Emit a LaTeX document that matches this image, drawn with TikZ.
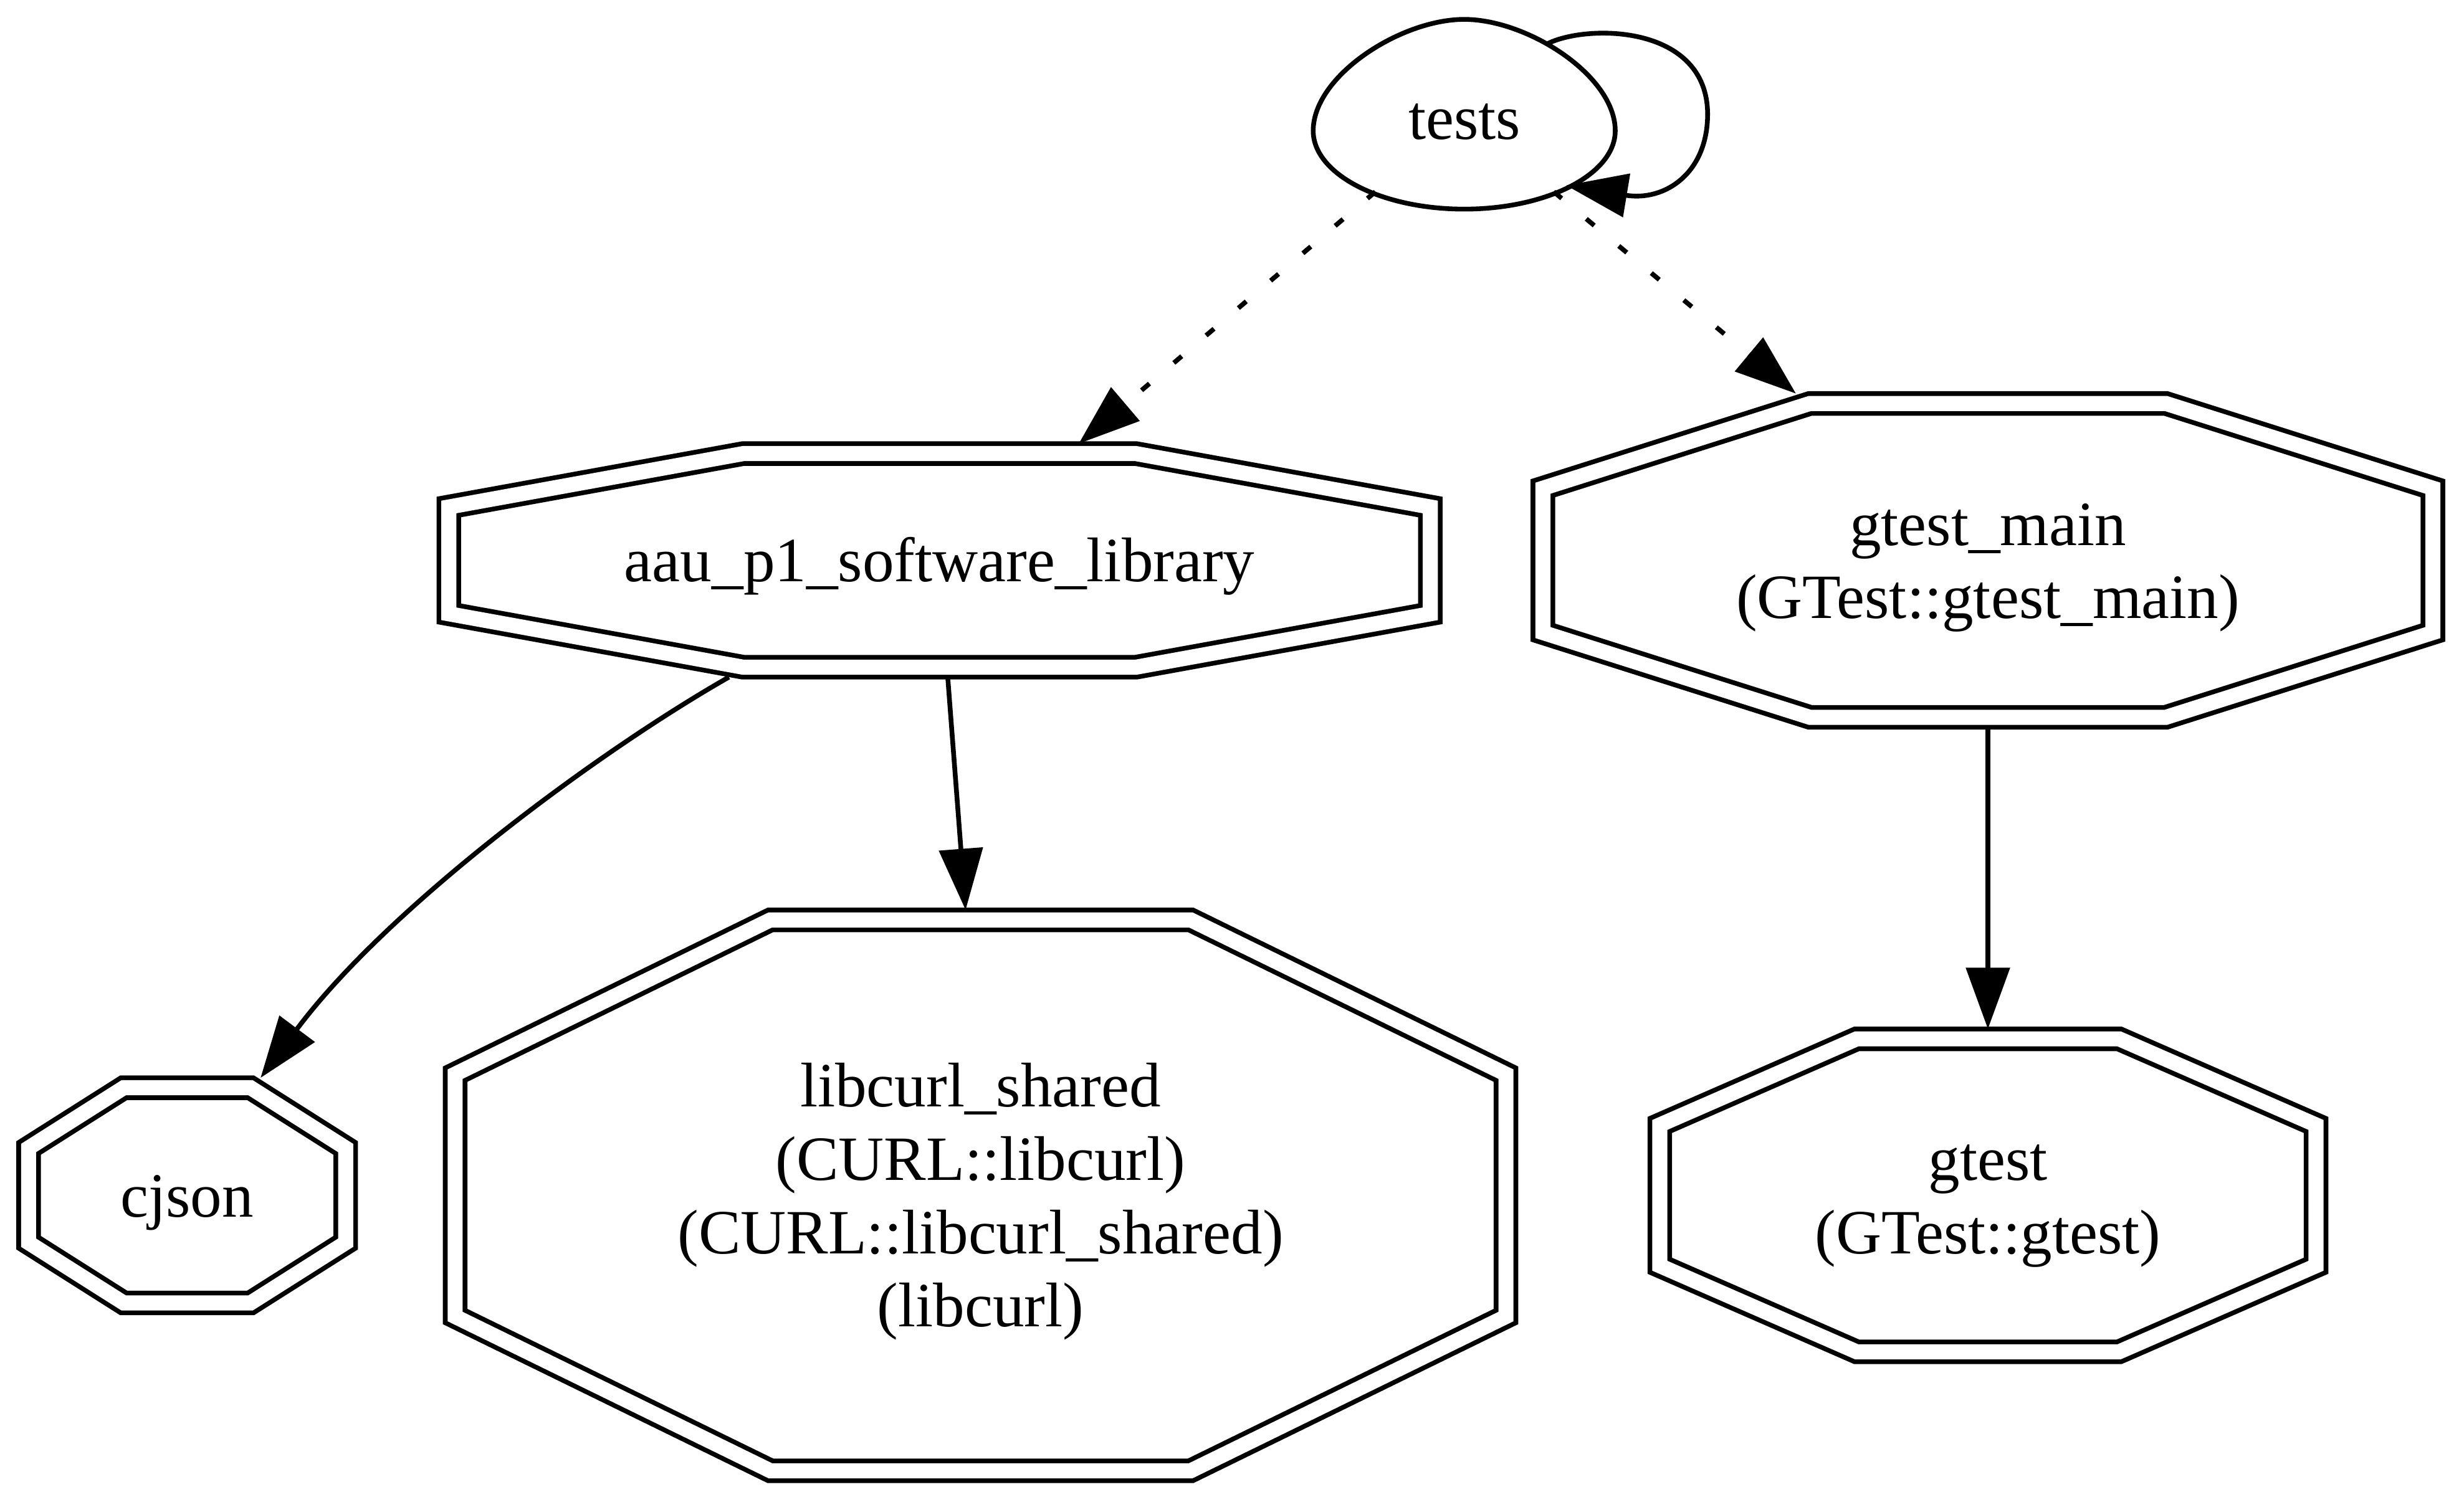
\documentclass[tikz,border=0pt]{standalone}
\usepackage{fontspec}
\setmainfont{Liberation Serif}
\usetikzlibrary{arrows.meta,shapes.geometric,calc}
\newcommand\octlbl[2][-1.5pt]{\raisebox{#1}[\height][\depth]{\begin{tabular}{@{}c@{}}#2\end{tabular}}}
\newcommand\dbloct[2]{%
  \draw[octoline] let \p1=(#1.north east), \p2=(#1.south west),
    \n1={(\x1-\x2)/2-2.2pt}, \n2={(\y1-\y2)/2-2.2pt},
    \n3={(\x1+\x2)/2}, \n4={(\y1+\y2)/2} in
    ({\n3-0.4*\n1},{\n4+\n2}) -- ({\n3+0.4*\n1},{\n4+\n2})
    -- ({\n3+\n1},{\n4+#2*\n2}) -- ({\n3+\n1},{\n4-#2*\n2})
    -- ({\n3+0.4*\n1},{\n4-\n2}) -- ({\n3-0.4*\n1},{\n4-\n2})
    -- ({\n3-\n1},{\n4-#2*\n2}) -- ({\n3-\n1},{\n4+#2*\n2}) -- cycle;}
\tikzset{
  lblfont/.style={font=\fontsize{14pt}{16.3pt}\selectfont},
  octo/.style={rectangle, draw=none, inner sep=0pt, lblfont},
  testnode/.style={ellipse, draw=none, inner sep=0pt, lblfont, minimum width=67.06pt, minimum height=42.14pt},
  octoline/.style={draw=black, line width=1.05pt, double=white, double distance=3.35pt, line join=miter},
  edge/.style={draw=black, line width=1.05pt, -{Triangle[length=13.6pt,width=9.6pt]}},
  depline/.style={edge, dash pattern=on 2.3pt off 7.1pt},
  eggline/.style={draw=black, line width=1.05pt},
}
\begin{document}
\begin{tikzpicture}[x=0.35pt,y=-0.35pt]
\useasboundingbox (0,0) rectangle (1563,946.7);
% nodes
\node[octo, minimum width=221.9pt, minimum height=51.45pt] (aau) at (596,355.6) {\octlbl{aau\_p1\_software\_library}};
\node[octo, minimum width=201.6pt, minimum height=73.7pt] (gtestmain) at (1261,355.6) {\octlbl{gtest\_main\\(GTest::gtest\_main)}};
\node[octo, minimum width=74.4pt, minimum height=51.8pt] (cjson) at (118.7,758.5) {\octlbl{cjson}};
\node[octo, minimum width=237.3pt, minimum height=126.35pt] (libcurl) at (622,758.5) {\octlbl{libcurl\_shared\\(CURL::libcurl)\\(CURL::libcurl\_shared)\\(libcurl)}};
\node[octo, minimum width=149.7pt, minimum height=73.5pt] (gtest) at (1261,758.5) {\octlbl{gtest\\(GTest::gtest)}};
\node[testnode] (tests) at (929,72.5) {\octlbl[-2.3pt]{tests}};
% shapes
\dbloct{aau}{0.5}
\dbloct{gtestmain}{0.46}
\dbloct{cjson}{0.44}
\dbloct{libcurl}{0.44}
\dbloct{gtest}{0.45}
\draw[eggline] (1024.6,83) .. controls (1024.6,48) and (969,12.3) .. (928.8,12.3)
  .. controls (888.6,12.3) and (833,48) .. (833,83)
  .. controls (833,110.4) and (875.9,132.7) .. (928.8,132.7)
  .. controls (981.7,132.7) and (1024.6,110.4) .. (1024.6,83) -- cycle;
% connectors
\draw[edge, shorten <=-2.4pt] (tests.39) .. controls (1008,15) and (1083,16) .. (1083.2,72.4)
  .. controls (1083.2,110) and (1056,128) .. (tests.-35.8);
\draw[depline] (tests.221.5) -- (aau.40.7);
\draw[depline] (tests.-41.5) -- (gtestmain.139.3);
\draw[edge] (aau.209.45) .. controls (376,479) and (245,577) .. (cjson.58.64);
\draw[edge] (aau.-86.2) -- (libcurl.93.6);
\draw[edge] (gtestmain.south) -- (gtest.north);
\end{tikzpicture}
\end{document}
